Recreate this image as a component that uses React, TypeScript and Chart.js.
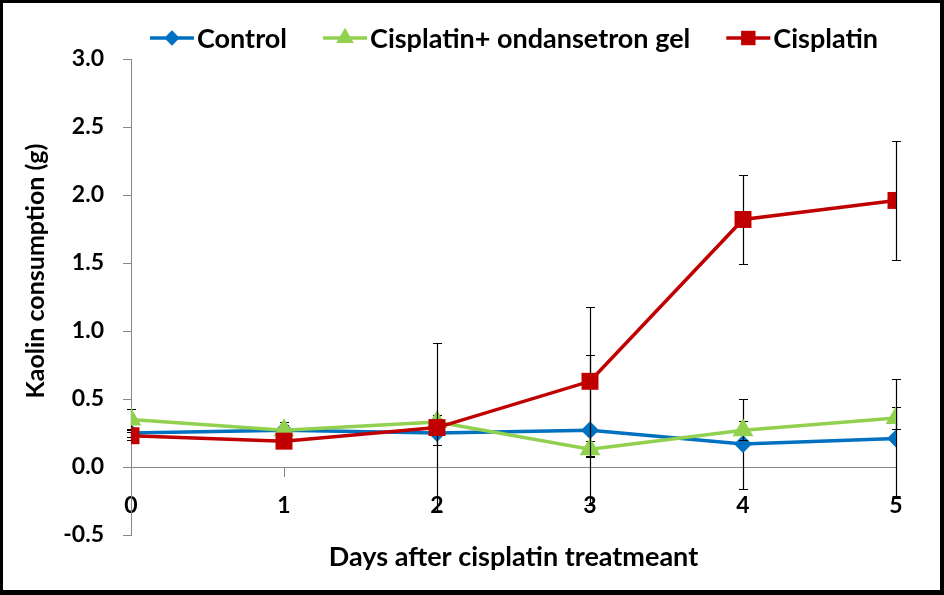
import { useEffect, useRef } from 'react';
import { Chart, registerables } from 'chart.js';

Chart.register(...registerables);

const days = [0, 1, 2, 3, 4, 5];
const seriesNames = ['Control', 'Cisplatin+ ondansetron gel', 'Cisplatin'];
const controlValues = [0.25, 0.27, 0.25, 0.27, 0.17, 0.21];
const controlErrors = [0.03, 0.06, 0.09, 0.55, 0.33, 0.44];
const gelValues = [0.35, 0.27, 0.33, 0.13, 0.27, 0.36];
const gelErrors = [0.08, 0.04, 0.05, 0.06, 0.07, 0.08];
const cisplatinValues = [0.23, 0.19, 0.29, 0.63, 1.82, 1.96];
const cisplatinErrors = [0.03, 0.03, 0.62, 0.55, 0.33, 0.44];
const yAxisTitle = 'Kaolin consumption (g)';
const xAxisTitle = 'Days after cisplatin treatmeant';

const FONT = 'Lato';
const GRAY = '#868686';
const colors = ['#0070C0', '#92D050', '#C00000'];
const markers = ['rectRot', 'triangle', 'rect'];
const radii = [9, 12, 12];

function drawMarker(ctx: CanvasRenderingContext2D, style: string, x: number, y: number, r: number, color: string) {
  ctx.save();
  ctx.fillStyle = color;
  ctx.beginPath();
  if (style === 'rectRot') {
    ctx.moveTo(x, y - r);
    ctx.lineTo(x + r, y);
    ctx.lineTo(x, y + r);
    ctx.lineTo(x - r, y);
  } else if (style === 'triangle') {
    ctx.moveTo(x, y - r);
    ctx.lineTo(x + r * 0.866, y + r * 0.5);
    ctx.lineTo(x - r * 0.866, y + r * 0.5);
  } else {
    const h = r * Math.SQRT1_2;
    ctx.rect(x - h, y - h, 2 * h, 2 * h);
  }
  ctx.closePath();
  ctx.fill();
  ctx.restore();
}

const errorBarPlugin = {
  id: 'errorBars',
  beforeDatasetDraw(chart: any, args: any) {
    const ds = chart.data.datasets[args.index];
    const errs: number[] = ds.errors || [];
    const yScale = chart.scales.y;
    const ctx = chart.ctx as CanvasRenderingContext2D;
    ctx.save();
    ctx.strokeStyle = '#000';
    ctx.lineWidth = 1.2;
    args.meta.data.forEach((pt: any, i: number) => {
      const v = ds.data[i].y;
      const e = errs[i];
      if (!e) return;
      const x = Math.round(pt.x) + 0.5;
      const yt = Math.round(yScale.getPixelForValue(v + e)) + 0.5;
      const yb = Math.round(yScale.getPixelForValue(v - e)) + 0.5;
      ctx.beginPath();
      ctx.moveTo(x, yt);
      ctx.lineTo(x, yb);
      ctx.moveTo(x - 4.5, yt);
      ctx.lineTo(x + 4.5, yt);
      ctx.moveTo(x - 4.5, yb);
      ctx.lineTo(x + 4.5, yb);
      ctx.stroke();
    });
    ctx.restore();
  },
};

const legendTitlePlugin = {
  id: 'customLegend',
  afterDraw(chart: any) {
    const ctx = chart.ctx as CanvasRenderingContext2D;
    ctx.save();
    ctx.font = `bold 27px ${FONT}`;
    ctx.textBaseline = 'middle';
    ctx.fillStyle = '#000';
    const iconW = 44;
    const gapText = 3;
    const gapItem = 36;
    const widths = seriesNames.map((n) => ctx.measureText(n).width);
    const total = widths.reduce((a, w) => a + iconW + gapText + w, 0) + gapItem * (seriesNames.length - 1);
    let x = 511 - total / 2;
    const y = 35;
    seriesNames.forEach((name, i) => {
      ctx.strokeStyle = colors[i];
      ctx.lineWidth = 3.5;
      ctx.beginPath();
      ctx.moveTo(x, y);
      ctx.lineTo(x + iconW, y);
      ctx.stroke();
      drawMarker(ctx, markers[i], x + iconW / 2, y, radii[i] * 0.85, colors[i]);
      ctx.fillStyle = '#000';
      ctx.textAlign = 'left';
      ctx.fillText(name, x + iconW + gapText, y + 1);
      x += iconW + gapText + widths[i] + gapItem;
    });
    // y-axis title
    ctx.font = `bold 25px ${FONT}`;
    ctx.translate(33, 268);
    ctx.rotate(-Math.PI / 2);
    ctx.textAlign = 'center';
    ctx.fillText(yAxisTitle, 0, 0);
    ctx.restore();
  },
};

function toPoints(values: number[]) {
  return days.map((d, i) => ({ x: d, y: values[i] }));
}

export default function App() {
  const canvasRef = useRef<HTMLCanvasElement | null>(null);

  useEffect(() => {
    if (!canvasRef.current) return;
    const valueSets = [controlValues, gelValues, cisplatinValues];
    const errorSets = [controlErrors, gelErrors, cisplatinErrors];
    const chart = new Chart(canvasRef.current, {
      type: 'line',
      data: {
        datasets: seriesNames.map((name, i) => ({
          label: name,
          data: toPoints(valueSets[i]),
          errors: errorSets[i],
          borderColor: colors[i],
          backgroundColor: colors[i],
          borderWidth: 3.5,
          pointStyle: markers[i],
          pointRadius: radii[i],
          pointHoverRadius: radii[i],
          pointBackgroundColor: colors[i],
          pointBorderColor: colors[i],
          pointBorderWidth: 0,
          tension: 0,
          fill: false,
          order: 3 - i,
        })) as any,
      },
      options: {
        responsive: false,
        animation: false,
        events: [],
        layout: { padding: { top: 56, left: 0, right: 44, bottom: 55 } },
        plugins: {
          legend: { display: false },
          tooltip: { enabled: false },
        },
        scales: {
          x: {
            type: 'linear',
            position: { y: 0 } as any,
            min: 0,
            max: 5,
            offset: false,
            grid: { drawOnChartArea: false, drawTicks: true, tickLength: 9, color: GRAY },
            border: { display: true, color: GRAY, width: 1 },
            ticks: {
              stepSize: 1,
              padding: 16,
              color: '#000',
              font: { family: FONT, size: 23, weight: 'bold' },
              maxRotation: 0,
            },
            title: {
              display: true,
              text: xAxisTitle,
              color: '#000',
              font: { family: FONT, size: 27, weight: 'bold' },
              padding: { top: 5, bottom: 0 },
            },
          },
          y: {
            type: 'linear',
            position: 'left',
            min: -0.5,
            max: 3.0,
            grid: { drawOnChartArea: false, drawTicks: true, tickLength: 8, color: GRAY },
            border: { display: true, color: GRAY, width: 1 },
            ticks: {
              stepSize: 0.5,
              padding: 19,
              color: '#000',
              font: { family: FONT, size: 23, weight: 'bold' },
              callback: (v: any) => Number(v).toFixed(1),
            },
            afterFit: (scale: any) => {
              scale.width = 128;
            },
          },
        },
      },
      plugins: [errorBarPlugin, legendTitlePlugin],
    });
    return () => chart.destroy();
  }, []);

  return (
    <div
      style={{
        position: 'absolute',
        left: 0,
        top: 0,
        width: 944,
        height: 595,
        boxSizing: 'border-box',
        borderStyle: 'solid',
        borderColor: '#000',
        borderWidth: '3px 4px 5px 3px',
        background: '#fff',
      }}
    >
      <canvas ref={canvasRef} width={937} height={587} style={{ display: 'block', width: 937, height: 587 }} />
    </div>
  );
}
